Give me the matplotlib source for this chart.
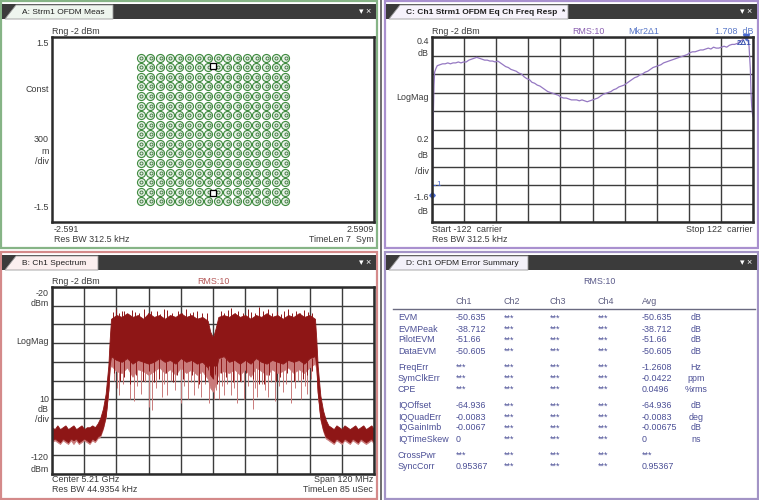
import numpy as np
import matplotlib.pyplot as plt
from matplotlib.patches import Rectangle, Polygon

plt.rcParams['font.family'] = ['Liberation Sans', 'DejaVu Sans']

# ---------------- A: 256QAM constellation ----------------
qam_levels = [-15, -13, -11, -9, -7, -5, -3, -1, 1, 3, 5, 7, 9, 11, 13, 15]
qam_scale = 0.0777
pilot_i = [0.0, 0.0]
pilot_q = [1.03, -1.03]

# ---------------- C: equalizer channel freq response ----------------
carrier = [-122, -121.5, -121, -120.5, -120, -119, -118, -116, -114, -112,
           -110, -108, -106, -104, -102, -100, -98, -96, -94, -92,
           -90, -88, -86, -84, -82, -80, -78, -76, -74, -72,
           -70, -68, -66, -64, -62, -60, -58, -56, -54, -52,
           -50, -48, -46, -44, -42, -40, -38, -36, -34, -32,
           -30, -28, -26, -24, -22, -20, -18, -16, -14, -12,
           -10, -8, -6, -4, -2, 0, 2, 4, 6, 8,
           10, 12, 14, 16, 18, 20, 22, 24, 26, 28,
           30, 32, 34, 36, 38, 40, 42, 44, 46, 48,
           50, 52, 54, 56, 58, 60, 62, 64, 66, 68,
           70, 72, 74, 76, 78, 80, 82, 84, 86, 88,
           90, 92, 94, 96, 98, 100, 102, 104, 106, 108,
           110, 112, 114, 116, 117, 118, 119, 120, 120.5, 121,
           121.5, 122]
resp_db = [-1.31, -0.95, -0.45, -0.12, 0.02, 0.06, 0.09, 0.10, 0.11, 0.11,
           0.12, 0.11, 0.12, 0.12, 0.13, 0.12, 0.13, 0.13, 0.15, 0.16,
           0.17, 0.18, 0.17, 0.16, 0.15, 0.15, 0.14, 0.14, 0.13, 0.14,
           0.12, 0.10, 0.08, 0.07, 0.05, 0.04, 0.03, 0.01, 0.00, -0.03,
           -0.05, -0.06, -0.09, -0.10, -0.12, -0.13, -0.15, -0.17, -0.19, -0.20,
           -0.21, -0.22, -0.23, -0.25, -0.26, -0.26, -0.27, -0.28, -0.28, -0.28,
           -0.29, -0.28, -0.29, -0.30, -0.29, -0.28, -0.27, -0.26, -0.24, -0.22,
           -0.21, -0.20, -0.19, -0.17, -0.16, -0.14, -0.13, -0.12, -0.10, -0.08,
           -0.06, -0.04, -0.03, -0.01, 0.00, 0.02, 0.03, 0.05, 0.07, 0.08,
           0.09, 0.10, 0.12, 0.13, 0.14, 0.15, 0.16, 0.17, 0.18, 0.19,
           0.20, 0.21, 0.23, 0.24, 0.24, 0.25, 0.26, 0.26, 0.27, 0.28,
           0.27, 0.29, 0.28, 0.28, 0.29, 0.30, 0.29, 0.31, 0.32, 0.32,
           0.33, 0.35, 0.37, 0.39, 0.40, 0.38, 0.30, 0.05, -0.20, -0.35,
           -0.42, -0.46]
mkr1_x, mkr1_y = -122, -1.31
mkr2_x, mkr2_y = 117, 0.40

# ---------------- B: spectrum (MHz offset from 5.21 GHz) ----------------
spec_mhz = [-60, -59, -58, -57, -56, -55, -54, -53, -52, -51,
            -50, -49, -48, -47, -46, -45, -44, -43, -42, -41,
            -40, -39, -38.5, -38, -36, -34, -32, -30, -28, -26,
            -24, -22, -20, -18, -16, -14, -12, -10, -8, -6,
            -4, -2, -1, 0, 1, 2, 4, 6, 8, 10,
            12, 14, 16, 18, 20, 22, 24, 26, 28, 30,
            32, 34, 36, 38, 38.5, 39, 40, 41, 42, 43,
            44, 45, 46, 47, 48, 49, 50, 51, 52, 53,
            54, 55, 56, 57, 58, 59, 60]
spec_hi = [-95, -96, -94, -96, -95, -94, -96, -95, -94, -96,
           -95, -94, -96, -95, -95, -94, -95, -93, -90, -85,
           -77, -62, -48, -37, -35, -36, -34, -36, -35, -37,
           -34, -36, -35, -37, -35, -36, -34, -36, -35, -37,
           -36, -38, -44, -47, -42, -36, -35, -36, -34, -36,
           -35, -37, -35, -36, -34, -36, -35, -37, -35, -36,
           -34, -36, -35, -37, -48, -62, -78, -86, -91, -94,
           -95, -96, -94, -95, -96, -94, -95, -96, -95, -94,
           -96, -95, -94, -96, -95, -94, -96]
spec_lo = [-102, -101, -102, -103, -101, -102, -103, -101, -102, -101,
           -103, -102, -101, -102, -103, -101, -102, -100, -99, -95,
           -89, -75, -62, -57, -59, -60, -58, -61, -59, -60,
           -61, -60, -58, -60, -59, -61, -58, -60, -59, -61,
           -60, -63, -67, -69, -65, -58, -57, -60, -59, -61,
           -59, -61, -58, -60, -61, -59, -60, -61, -59, -60,
           -59, -61, -58, -57, -62, -76, -90, -96, -100, -101,
           -102, -103, -101, -102, -103, -101, -102, -103, -101, -102,
           -103, -101, -102, -103, -102, -101, -103]
spec_min = [-103, -102, -103, -104, -102, -103, -104, -102, -104, -102,
            -104, -103, -102, -103, -104, -102, -103, -101, -100, -96,
            -90, -76, -64, -62, -65, -66, -63, -68, -64, -65,
            -67, -65, -63, -66, -64, -67, -63, -66, -64, -67,
            -65, -69, -74, -76, -72, -66, -65, -66, -64, -67,
            -64, -68, -63, -65, -67, -64, -66, -65, -63, -66,
            -64, -66, -63, -61, -64, -77, -91, -97, -101, -102,
            -103, -104, -102, -103, -104, -102, -103, -104, -102, -103,
            -104, -102, -103, -104, -103, -102, -104]
up_spike_mhz = [-37.2, -36.3, -35.1, -33.8, -33, -31.6, -30.2, -29, -27.5, -25.7,
                -24.4, -23, -21, -19.8, -18.3, -17, -15.2, -13, -11.6, -10.2,
                -8.7, -7.3, -6, -4.2, -2.3, 2.8, 4.1, 5.5, 6.7, 8.2,
                9.5, 11, 12.9, 14.2, 15.6, 17.3, 18.8, 20.4, 22.1, 24,
                25.3, 26.6, 27.9, 29.4, 31, 32.3, 34, 35.5, 37]
up_spike_db = [-33.5, -32, -34, -33, -33, -34.5, -32.5, -33.5, -34, -31.5,
               -34, -33, -33, -34.5, -32, -32.5, -34, -33, -34, -32,
               -34, -33.5, -33, -34, -34, -33, -34, -32.5, -31, -34,
               -33, -34, -31.5, -33.5, -34, -30.5, -33, -32, -34, -33,
               -34.5, -33, -32, -34, -33, -34, -32.5, -33.5, -34]
dn_spike_mhz = [-37, -35.8, -35, -33.4, -31, -29.5, -28.3, -27, -25.2, -23.9,
                -22.6, -21.3, -19, -18.1, -17, -15.6, -14.3, -12, -10.8, -9.5,
                -8.1, -7, -5.6, -4.5, -3.1, -1.5, 0.5, 1.2, 2.3, 3.4,
                4, 5.2, 6.7, 7.9, 9, 10.3, 11.7, 13, 14.8, 15.7,
                16.5, 18.2, 19.3, 20.4, 21.6, 23, 24.5, 26, 27.2, 29,
                30.4, 31.6, 32.8, 34.1, 35, 36.4]
dn_spike_db = [-70, -74, -78, -72, -80, -81, -73, -77, -71, -84,
               -86, -74, -79, -72, -78, -70, -75, -82, -73, -80,
               -71, -78, -74, -79, -72, -82, -80, -75, -80, -73,
               -78, -72, -78, -74, -82, -71, -80, -73, -85, -74,
               -79, -72, -75, -79, -71, -81, -73, -76, -72, -82,
               -74, -70, -80, -73, -77, -69]
dark_dip_mhz = [-36.8, -34.6, -33, -30.8, -28.8, -26, -24, -22, -20, -17.6,
                -15, -13.4, -11.2, -8, -5.2, -3, 1.5, 3, 5, 7.4,
                10, 12.2, 15, 17, 19, 21, 23.4, 25, 27.6, 30,
                33.4, 35, 36.8]
dark_dip_db = [-66, -70, -68, -72, -67, -70, -65, -71, -69, -66,
               -71, -67, -69, -67, -72, -70, -72, -66, -68, -71,
               -70, -66, -69, -72, -72, -67, -70, -68, -66, -70,
               -69, -67, -65]

# ---------------- D: OFDM error summary ----------------
row_names = ["EVM", "EVMPeak", "PilotEVM", "DataEVM", "FreqErr", "SymClkErr", "CPE",
             "IQOffset", "IQQuadErr", "IQGainImb", "IQTimeSkew", "CrossPwr", "SyncCorr"]
row_group = [0, 0, 0, 0, 1, 1, 1, 2, 2, 2, 2, 3, 3]
ch1_vals = ["-50.635", "-38.712", "-51.66", "-50.605", "***", "***", "***",
            "-64.936", "-0.0083", "-0.0067", "0", "***", "0.95367"]
avg_vals = ["-50.635", "-38.712", "-51.66", "-50.605", "-1.2608", "-0.0422", "0.0496",
            "-64.936", "-0.0083", "-0.00675", "0", "***", "0.95367"]
units = ["dB", "dB", "dB", "dB", "Hz", "ppm", "%rms", "dB", "deg", "dB", "ns", "", ""]
col_names = ["Ch1", "Ch2", "Ch3", "Ch4", "Avg"]

W, H = 759, 500
fig = plt.figure(figsize=(W / 100, H / 100), dpi=100, facecolor='white')
bg = fig.add_axes([0, 0, 1, 1])
bg.set_xlim(0, W)
bg.set_ylim(H, 0)
bg.axis('off')

TXT = '#3a3a3a'
FS = 6.4


def px_axes(x0, y0, x1, y1):
    ax = fig.add_axes([x0 / W, 1 - y1 / H, (x1 - x0) / W, (y1 - y0) / H])
    ax.set_facecolor('white')
    for s in ax.spines.values():
        s.set_linewidth(1.8)
        s.set_color('#2b2b2b')
    ax.tick_params(left=False, bottom=False, labelleft=False, labelbottom=False)
    return ax


def panel(x0, y0, x1, y1, edge, tab_w, title, tab_face, bold=False):
    bg.add_patch(Rectangle((x0, y0), x1 - x0, y1 - y0, facecolor='white',
                           edgecolor=edge, lw=1.6))
    bg.add_patch(Rectangle((x0 + 1, y0 + 3), x1 - x0 - 2, 15, facecolor='#3b3b3b',
                           edgecolor='none'))
    bg.add_patch(Polygon([(x0 + 4, y0 + 18), (x0 + 15, y0 + 4), (x0 + tab_w, y0 + 4),
                          (x0 + tab_w, y0 + 18)], closed=True, facecolor=tab_face,
                         edgecolor='#9a9a9a', lw=0.6))
    bg.text(x0 + 21, y0 + 11.5, title, fontsize=6, color='#202020', va='center',
            fontweight='bold' if bold else 'normal')
    bg.text(x1 - 6, y0 + 10.5, '\u25be \u00d7', fontsize=6.5, color='white', va='center',
            ha='right')


def grid10(ax, xlo, xhi, ylo, yhi):
    ax.set_xlim(xlo, xhi)
    ax.set_ylim(ylo, yhi)
    ax.set_xticks(np.linspace(xlo, xhi, 11))
    ax.set_yticks(np.linspace(ylo, yhi, 11))
    ax.grid(True, color='#3c3c3c', lw=1.0)
    ax.set_axisbelow(True)


def label(x, y, s, ha='right', color=TXT):
    bg.text(x, y, s, fontsize=FS, color=color, va='center', ha=ha)


# splitter
bg.plot([381, 381], [0, 500], color='#555555', lw=1.2)

panel(1, 1, 377, 248, '#86b486', 112, 'A: Strm1 OFDM Meas', '#eef5ee')
panel(385, 1, 758, 248, '#a990cf', 183, 'C: Ch1 Strm1 OFDM Eq Ch Freq Resp  *', '#f6f2fb', bold=True)
panel(1, 252, 377, 499, '#d48a8a', 97, 'B: Ch1 Spectrum', '#fbefef')
panel(385, 252, 758, 499, '#a394c6', 143, 'D: Ch1 OFDM Error Summary', '#f3f1f9')

# ---------------- A ----------------
axA = px_axes(52, 37, 374, 222)
axA.set_xlim(-2.591, 2.5909)
axA.set_ylim(-1.5, 1.5)
ii, qq = np.meshgrid(np.array(qam_levels) * qam_scale, np.array(qam_levels) * qam_scale)
axA.plot(ii.ravel(), qq.ravel(), 'o', ms=5.8, mfc='#e8f2e8', mec='#3e8a3e', mew=0.8)
axA.plot(ii.ravel() + 0.01, qq.ravel(), 'o', ms=2.2, mfc='none', mec='#4a7f4a', mew=0.7)
axA.plot(pilot_i, pilot_q, 's', ms=4.2, mfc='white', mec='black', mew=0.9)

label(52, 31, 'Rng -2 dBm', ha='left')
label(49, 43, '1.5')
label(49, 90, 'Const')
label(49, 140, '300')
label(49, 151, 'm')
label(49, 162, '/div')
label(49, 207, '-1.5')
label(54, 230, '-2.591', ha='left')
label(54, 240, 'Res BW 312.5 kHz', ha='left')
label(374, 230, '2.5909')
label(374, 240, 'TimeLen 7  Sym')

# ---------------- C ----------------
axC = px_axes(432, 37, 753, 222)
grid10(axC, -122, 122, -1.6, 0.4)
axC.plot(carrier, resp_db, color='#9578c2', lw=0.9)
axC.plot([mkr1_x], [mkr1_y], 'D', ms=2.8, color='#4a6ad0', clip_on=False)
axC.plot([mkr1_x, -119.5], [-1.2, -1.2], color='#4a6ad0', lw=0.8)
axC.text(-118.5, -1.2, '1', fontsize=5.8, color='#4a6ad0', va='center')
axC.plot([mkr2_x], [mkr2_y], 'v', ms=4.5, color='#4a6ad0', clip_on=False)
axC.text(mkr2_x - 2, 0.325, '2\u03941', fontsize=5.8, color='#3a52b0', ha='center',
         va='center', fontweight='bold')

label(432, 31, 'Rng -2 dBm', ha='left')
label(588, 31, 'RMS:10', ha='center', color='#8a5fb0')
label(644, 31, 'Mkr2\u03941', ha='center', color='#5a78c8')
label(753, 31, '1.708  dB', color='#5a78c8')
label(429, 42, '0.4')
label(429, 53, 'dB')
label(429, 98, 'LogMag')
label(429, 140, '0.2')
label(429, 155, 'dB')
label(429, 171, '/div')
label(429, 197, '-1.6')
label(429, 212, 'dB')
label(432, 230, 'Start -122  carrier', ha='left')
label(432, 240, 'Res BW 312.5 kHz', ha='left')
label(753, 230, 'Stop 122  carrier')

# ---------------- B ----------------
axB = px_axes(52, 287, 374, 474)
grid10(axB, -60, 60, -120, -20)
axB.fill_between(spec_mhz, spec_min, spec_lo, color='#c97a7a', lw=0.5)
axB.vlines(dn_spike_mhz, -62, dn_spike_db, color='#c97a7a', lw=0.7)
axB.fill_between(spec_mhz, spec_lo, spec_hi, color='#8e1616', lw=0.6)
axB.vlines(dark_dip_mhz, -58, dark_dip_db, color='#8e1616', lw=0.7)
axB.vlines(up_spike_mhz, -38, up_spike_db, color='#8e1616', lw=0.7)

label(52, 281, 'Rng -2 dBm', ha='left')
label(213, 281, 'RMS:10', ha='center', color='#b55a5a')
label(49, 293, '-20')
label(49, 303, 'dBm')
label(49, 341, 'LogMag')
label(49, 399, '10')
label(49, 409, 'dB')
label(49, 419, '/div')
label(49, 457, '-120')
label(49, 469, 'dBm')
label(52, 480, 'Center 5.21 GHz', ha='left')
label(52, 490, 'Res BW 44.9354 kHz', ha='left')
label(373, 480, 'Span 120 MHz')
label(373, 490, 'TimeLen 85 uSec')

# ---------------- D ----------------
TB = '#4b4f96'
col_x = [456, 504, 550, 598, 642]
label(599, 282, 'RMS:10', ha='center', color='#5a5a8a')
for cx, name in zip(col_x, col_names):
    label(cx, 301, name, ha='left', color='#5c5c80')
bg.plot([393, 755], [309, 309], color='#6a6a80', lw=1.0)
for i, name in enumerate(row_names):
    y = 318 + 11 * i + 5.5 * row_group[i]
    label(398, y, name, ha='left', color=TB)
    label(col_x[0], y, ch1_vals[i], ha='left', color=TB)
    for cx in col_x[1:4]:
        label(cx, y, '***', ha='left', color=TB)
    label(col_x[4], y, avg_vals[i], ha='left', color=TB)
    label(696, y, units[i], ha='center', color=TB)

fig.savefig('out.png', dpi=100, facecolor=fig.get_facecolor())
